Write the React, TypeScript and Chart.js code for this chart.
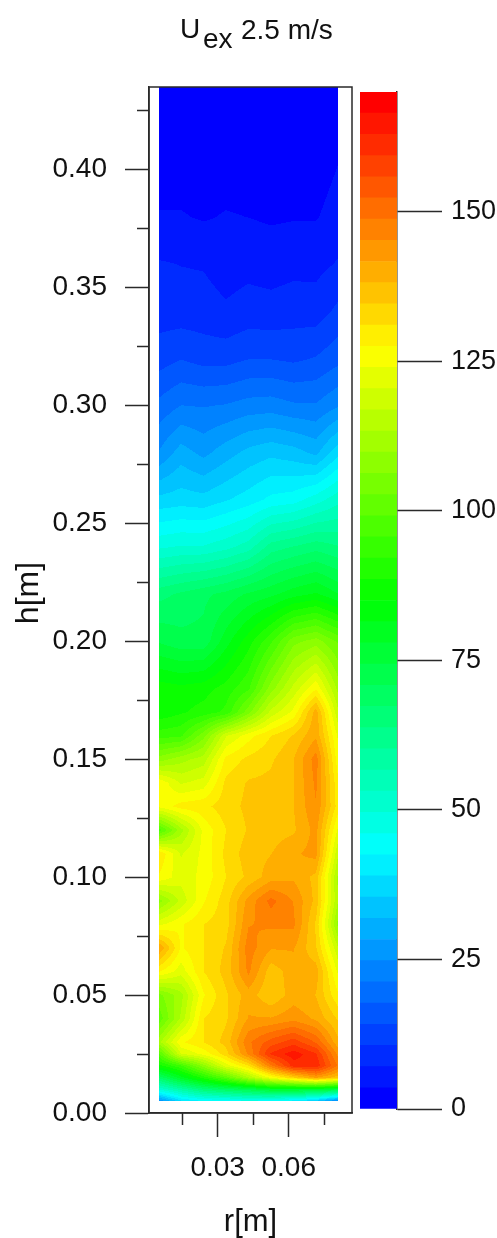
import React, { useEffect, useRef } from "react";
import { Chart, registerables } from "chart.js";

Chart.register(...registerables);

const TEXT = "#111111";
const LINE = "#2a2a2a";
const FONT = "'Liberation Sans', Arial, sans-serif";

// radial positions of the measuring columns [m]
const rValues = [0.005, 0.0145, 0.024, 0.0335, 0.043, 0.0525, 0.062, 0.0715, 0.081];

// heights of the measuring rows [m], top to bottom
const hValues = [
  0.435, 0.4, 0.38, 0.36, 0.34, 0.32, 0.3, 0.28, 0.26, 0.24, 0.22, 0.2, 0.18, 0.17, 0.16, 0.15,
  0.14, 0.13, 0.12, 0.11, 0.1, 0.09, 0.08, 0.07, 0.06, 0.05, 0.04, 0.03, 0.025, 0.02, 0.015, 0.01, 0.005,
];

// values per row, columns in rValues order
const fieldRows = [
  [1, 1, 1, 1, 1, 1, 1, 1, 1.5],
  [2, 2, 2, 2, 2, 2, 2, 2, 3.7],
  [3.8, 3.8, 3.2, 3.8, 3.5, 3.1, 3.3, 3.3, 5],
  [7.4, 7, 6.8, 5.5, 6, 5.5, 6, 6, 7.4],
  [9, 8.7, 8.6, 7.6, 8.6, 8.4, 9, 8.8, 11.5],
  [12.4, 14, 12.8, 12.8, 14, 14, 13.4, 14.4, 16.5],
  [18.7, 21.3, 21, 21.5, 22.7, 23, 21.8, 21.6, 24.5],
  [25, 30, 27.3, 30.3, 33, 34.5, 33.4, 31, 38],
  [36.5, 37.3, 36.7, 38.7, 40.7, 43.5, 44.5, 48, 52],
  [49, 50, 50, 52, 55, 62, 64, 66, 64],
  [66, 68, 70, 72, 75, 77, 80, 82, 78],
  [74, 72, 72, 80, 87, 95, 105, 108, 102],
  [87, 86, 87, 90, 95, 108, 118, 127, 112],
  [86, 88, 90, 93, 105, 118, 125, 140, 117],
  [94, 95, 105, 120, 126, 131, 135, 141, 123],
  [108, 112, 115, 128.5, 132, 134, 138, 147, 125],
  [127, 120, 122, 132, 135, 135.5, 138, 146, 128],
  [125, 129, 130, 133, 135.5, 136.5, 138, 145, 129],
  [97, 112, 125, 131, 135, 136.5, 137.5, 143, 123],
  [131, 120, 125, 132, 136.5, 138, 141, 143, 117],
  [127, 122, 125, 131, 135.5, 140, 141, 137, 112],
  [108, 118, 127, 133, 143, 150, 145, 137, 113],
  [123, 127, 131, 133, 145, 146, 146, 134, 108],
  [142, 127, 131, 135, 147, 142, 142, 135, 117],
  [128, 122, 131, 136, 146, 136, 140, 140, 123],
  [105, 112, 127, 134, 140, 135, 140, 138, 128],
  [100, 114, 131, 134, 142, 142, 144, 141, 134],
  [112, 127, 131, 136, 148, 154, 158, 152, 139],
  [98, 120, 125, 133, 146, 160, 165, 160, 144],
  [87, 95, 108, 122, 131, 148, 161, 162, 148],
  [68, 80, 90, 100, 113, 125, 134, 142, 136],
  [50, 58, 66, 70, 73, 78, 78, 78, 74],
  [24, 38, 42, 43, 45, 43, 40, 34, 22],
];

// y axis ticks
const hMajorTicks = [0, 0.05, 0.1, 0.15, 0.2, 0.25, 0.3, 0.35, 0.4];
const hMinorTicks = [0.025, 0.075, 0.125, 0.175, 0.225, 0.275, 0.325, 0.375, 0.425];
// x axis ticks
const rMajorTicks = [0.03, 0.06];
const rMinorTicks = [0.015, 0.045, 0.075];
// colour key
const keyTicks = [0, 25, 50, 75, 100, 125, 150];
const keyMax = 170;
const keyLevels = 48;
const rampStops = [
  [0, 0, 255],
  [0, 255, 255],
  [0, 255, 0],
  [255, 255, 0],
  [255, 0, 0],
];

function rampColor(i: number): string {
  const t = (i / (keyLevels - 1)) * (rampStops.length - 1);
  const a = Math.min(Math.floor(t), rampStops.length - 2);
  const f = t - a;
  const c = rampStops[a].map((s, k) => Math.round(s + (rampStops[a + 1][k] - s) * f));
  return `rgb(${c[0]},${c[1]},${c[2]})`;
}
const keyColors = Array.from({ length: keyLevels }, (_, i) => rampColor(i));

function fixedTicks(list: number[]) {
  return (scale: any) => {
    scale.ticks = list.map((value) => ({ value }));
  };
}
function fixSize(prop: "width" | "height", size: number) {
  return (scale: any) => {
    scale[prop] = size;
    scale.paddingLeft = scale.paddingRight = scale.paddingTop = scale.paddingBottom = 0;
  };
}

function segment(list: number[], v: number): [number, number] {
  // list may run up or down
  for (let i = 0; i < list.length - 1; i++) {
    const a = list[i];
    const b = list[i + 1];
    if ((v >= a && v <= b) || (v <= a && v >= b)) return [i, (v - a) / (b - a)];
  }
  return v < Math.min(list[0], list[list.length - 1]) === list[0] < list[list.length - 1]
    ? [0, 0]
    : [list.length - 2, 1];
}

const contourPlugin = {
  id: "contourBands",
  beforeDatasetsDraw(chart: any) {
    const { ctx } = chart;
    const sx = chart.scales.x;
    const sy = chart.scales.y;
    const left = Math.round(sx.getPixelForValue(rValues[0]));
    const right = Math.round(sx.getPixelForValue(rValues[rValues.length - 1]));
    const top = Math.round(sy.getPixelForValue(hValues[0]));
    const bottom = Math.round(sy.getPixelForValue(hValues[hValues.length - 1]));
    const colSeg: [number, number][] = [];
    for (let px = left; px < right; px++) colSeg.push(segment(rValues, sx.getValueForPixel(px + 0.5)));
    ctx.save();
    for (let py = top; py < bottom; py++) {
      const [ri, rf] = segment(hValues, sy.getValueForPixel(py + 0.5));
      let run = left;
      let runBand = -1;
      for (let k = 0; k <= colSeg.length; k++) {
        let band = -2;
        if (k < colSeg.length) {
          const [ci, cf] = colSeg[k];
          const up = fieldRows[ri][ci] * (1 - cf) + fieldRows[ri][ci + 1] * cf;
          const dn = fieldRows[ri + 1][ci] * (1 - cf) + fieldRows[ri + 1][ci + 1] * cf;
          const v = up * (1 - rf) + dn * rf;
          band = Math.max(0, Math.min(keyLevels - 1, Math.floor((v / keyMax) * keyLevels)));
        }
        if (band !== runBand) {
          if (runBand >= 0) {
            ctx.fillStyle = keyColors[runBand];
            ctx.fillRect(run, py, left + k - run, 1);
          }
          run = left + k;
          runBand = band;
        }
      }
    }
    ctx.restore();
  },
  afterDraw(chart: any) {
    const { ctx, chartArea } = chart;
    ctx.save();
    ctx.strokeStyle = LINE;
    ctx.lineWidth = 1.5;
    ctx.strokeRect(chartArea.left, chartArea.top, chartArea.right - chartArea.left, chartArea.bottom - chartArea.top);
    ctx.fillStyle = TEXT;
    ctx.textAlign = "left";
    ctx.textBaseline = "alphabetic";
    ctx.font = `28px ${FONT}`;
    ctx.fillText("U", 180, 38);
    ctx.fillText("ex", 203, 48);
    ctx.fillText("2.5 m/s", 241, 39);
    ctx.font = `32px ${FONT}`;
    ctx.translate(38, chart.scales.y.getPixelForValue(0.2205));
    ctx.rotate(-Math.PI / 2);
    ctx.textAlign = "center";
    ctx.fillText("h[m]", 0, 0);
    ctx.restore();
  },
};

const rMin = 0.00098;
const rMax = 0.08674;
const hMin = 0;
const hMax = 0.4351;

export default function App() {
  const mainRef = useRef<HTMLCanvasElement>(null);
  const keyRef = useRef<HTMLCanvasElement>(null);

  useEffect(() => {
    const tickFont = { family: FONT, size: 28 };
    const points: { x: number; y: number }[] = [];
    hValues.forEach((h) => rValues.forEach((r) => points.push({ x: r, y: h })));

    const main = new Chart(mainRef.current as HTMLCanvasElement, {
      type: "scatter",
      data: { datasets: [{ label: "U", data: points, pointRadius: 0, showLine: false }] },
      plugins: [contourPlugin],
      options: {
        animation: false,
        responsive: false,
        devicePixelRatio: 1,
        events: [],
        layout: { padding: { left: 0, right: 145, top: 87, bottom: 0 } },
        plugins: { legend: { display: false }, tooltip: { enabled: false }, title: { display: false } },
        scales: {
          x: {
            type: "linear",
            position: "bottom",
            min: rMin,
            max: rMax,
            afterBuildTicks: fixedTicks(rMajorTicks),
            afterFit: fixSize("height", 125),
            border: { color: LINE, width: 1.5 },
            grid: { drawOnChartArea: false, tickLength: 24, tickColor: LINE, tickWidth: 1.5 },
            ticks: {
              color: TEXT,
              font: tickFont,
              padding: 14,
              maxRotation: 0,
              autoSkip: false,
              callback: (v: any) => Number(v).toFixed(2),
            },
            title: {
              display: true,
              text: "r[m]",
              color: TEXT,
              font: { family: FONT, size: 31, lineHeight: 1 },
              padding: 0,
            },
          },
          xMinor: {
            type: "linear",
            axis: "x",
            position: { y: hMin },
            min: rMin,
            max: rMax,
            afterBuildTicks: fixedTicks(rMinorTicks),
            border: { display: false },
            grid: { drawOnChartArea: false, tickLength: 12, tickColor: LINE, tickWidth: 1.5 },
            ticks: { display: false },
          },
          y: {
            type: "linear",
            position: "left",
            min: hMin,
            max: hMax,
            afterBuildTicks: fixedTicks(hMajorTicks),
            afterFit: fixSize("width", 149),
            border: { color: LINE, width: 1.5 },
            grid: { drawOnChartArea: false, tickLength: 24, tickColor: LINE, tickWidth: 1.5 },
            ticks: {
              color: TEXT,
              font: tickFont,
              padding: 18,
              autoSkip: false,
              callback: (v: any) => Number(v).toFixed(2),
            },
          },
          yMinor: {
            type: "linear",
            axis: "y",
            position: { x: rMin },
            min: hMin,
            max: hMax,
            afterBuildTicks: fixedTicks(hMinorTicks),
            border: { display: false },
            grid: { drawOnChartArea: false, tickLength: 12, tickColor: LINE, tickWidth: 1.5 },
            ticks: { display: false },
          },
        },
      } as any,
    });

    const key = new Chart(keyRef.current as HTMLCanvasElement, {
      type: "bar",
      data: {
        labels: ["U"],
        datasets: keyColors.map((color, i) => ({
          label: `level ${i}`,
          data: [[(i * keyMax) / keyLevels, ((i + 1) * keyMax) / keyLevels]],
          backgroundColor: color,
          borderWidth: 0,
          barPercentage: 1,
          categoryPercentage: 1,
          grouped: false,
        })),
      } as any,
      options: {
        animation: false,
        responsive: false,
        devicePixelRatio: 1,
        events: [],
        layout: { padding: { left: 360, right: 0, top: 92, bottom: 129 } },
        plugins: { legend: { display: false }, tooltip: { enabled: false } },
        scales: {
          x: { display: false },
          y: {
            type: "linear",
            position: "right",
            min: 0,
            max: keyMax,
            afterBuildTicks: fixedTicks(keyTicks),
            afterFit: fixSize("width", 100),
            border: { color: LINE, width: 1.5 },
            grid: { drawOnChartArea: false, tickLength: 45, tickColor: LINE, tickWidth: 1.5 },
            ticks: { color: TEXT, font: { family: FONT, size: 27 }, padding: 9, autoSkip: false },
          },
        },
      } as any,
    });

    return () => {
      main.destroy();
      key.destroy();
    };
  }, []);

  const abs: React.CSSProperties = { position: "absolute", left: 0, top: 0, display: "block" };
  return (
    <>
      <canvas ref={mainRef} width={497} height={1238} style={abs} />
      <canvas ref={keyRef} width={497} height={1238} style={abs} />
    </>
  );
}
